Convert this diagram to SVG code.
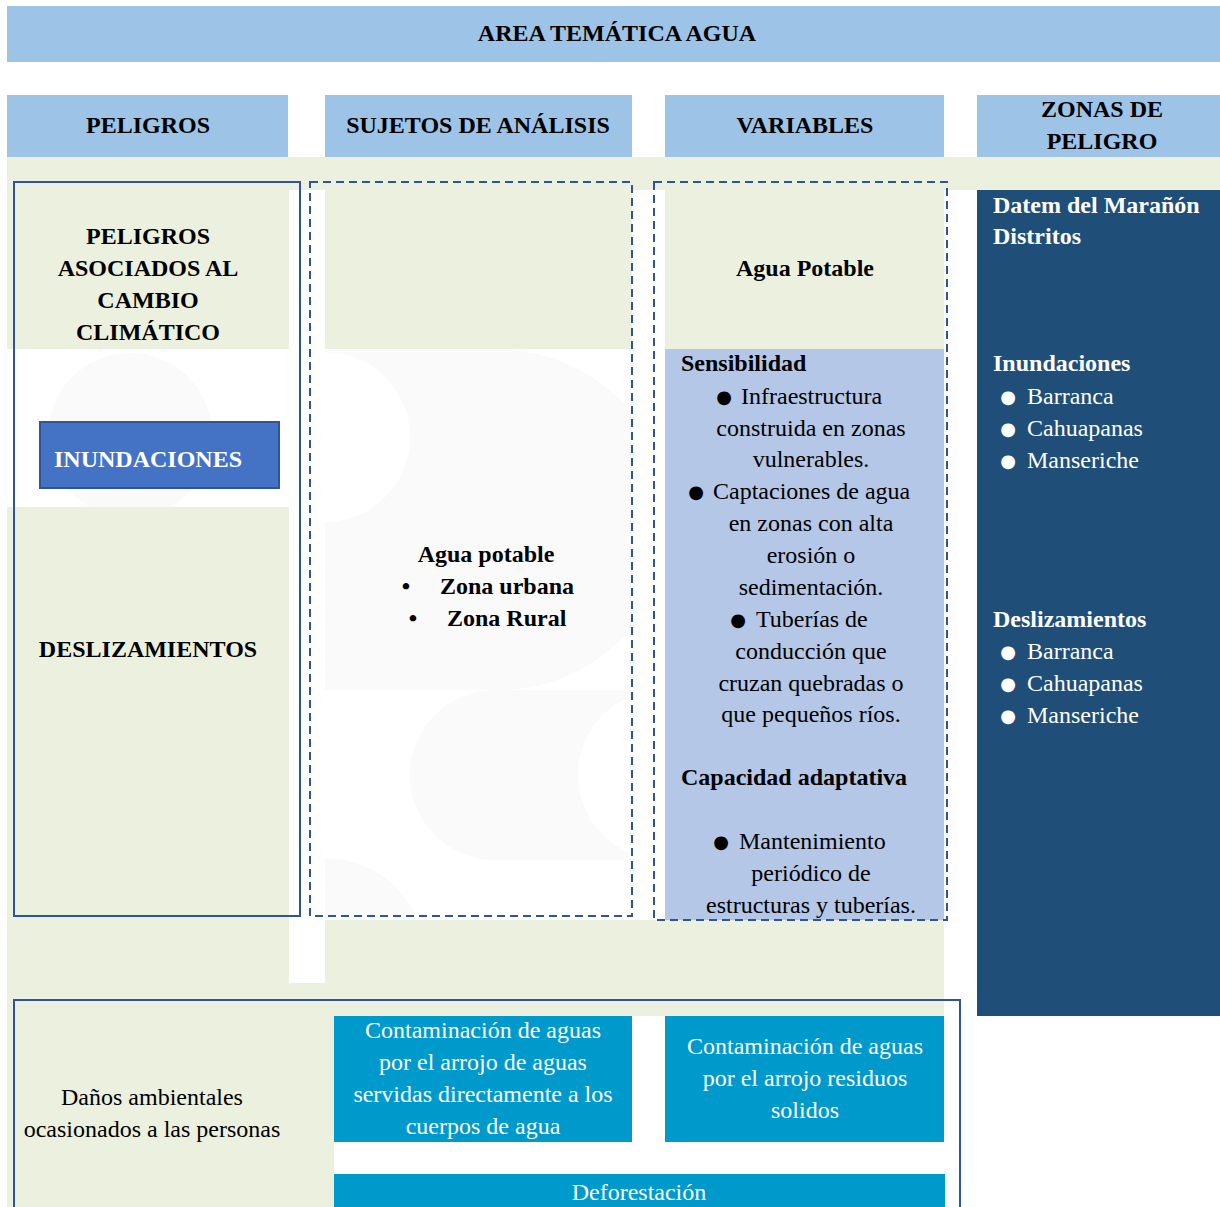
<svg xmlns="http://www.w3.org/2000/svg" width="1220" height="1207" viewBox="0 0 1220 1207" font-family="'Liberation Serif', 'Times New Roman', Times, serif">
<defs>
<style>
text{font-family:'Liberation Serif','Times New Roman',Times,serif;font-size:24px;fill:#000}
.b{font-weight:bold}
.w{fill:#fff}
.m{text-anchor:middle}
.hdr{fill:#9DC3E6}
.grn{fill:#EBF1DE}
.wm{fill:#FAFAFA}
.cy{fill:#0099CC}
.solid{fill:none;stroke:#2F5597;stroke-width:2}
.dash{fill:none;stroke:#2F5597;stroke-width:2;stroke-dasharray:8 5}
text.dot{font-family:'DejaVu Sans',sans-serif;font-size:18px}
</style>
<clipPath id="cl1"><rect x="7" y="349" width="282" height="158"/></clipPath>
<clipPath id="cl2"><rect x="325" y="349" width="307" height="571"/></clipPath>
</defs>
<rect width="1220" height="1207" fill="#fff"/>

<g id="background">
<rect class="grn" x="7" y="157" width="1213" height="33"/>
<rect class="grn" x="7" y="190" width="282" height="159"/>
<rect class="grn" x="7" y="507" width="282" height="700"/>
<rect class="grn" x="325" y="190" width="307" height="159"/>
<rect class="grn" x="289" y="983" width="36" height="224"/>
<rect class="grn" x="325" y="920" width="619" height="287"/>
<rect fill="#fff" x="334" y="1142" width="611" height="65"/>
<rect fill="#fff" x="632" y="1016" width="33" height="126"/>
<g clip-path="url(#cl1)"><circle class="wm" cx="130" cy="435" r="82"/></g>
<g clip-path="url(#cl2)">
<path class="wm" d="M325,350 H500 A170,170 0 0 1 500,690 H325 Z"/>
<circle fill="#fff" cx="325" cy="437" r="85"/>
<path class="wm" d="M495,690 H632 V860 H495 A85,85 0 0 1 495,690 Z"/>
<circle fill="#fff" cx="663" cy="775" r="85"/>
<circle class="wm" cx="325" cy="958" r="100"/>
</g>
</g>

<g id="title"><rect class="hdr" x="7" y="6" width="1213" height="56"/><text class="b m" x="617" y="41">AREA TEMÁTICA AGUA</text></g>
<g id="h-peligros"><rect class="hdr" x="7" y="95" width="281" height="62"/><text class="b m" x="148" y="133">PELIGROS</text></g>
<g id="h-sujetos"><rect class="hdr" x="325" y="95" width="307" height="62"/><text class="b m" x="478" y="133">SUJETOS DE ANÁLISIS</text></g>
<g id="h-variables"><rect class="hdr" x="665" y="95" width="279" height="62"/><text class="b m" x="805" y="133">VARIABLES</text></g>
<g id="h-zonas"><rect class="hdr" x="977" y="95" width="243" height="62"/><text class="b m" x="1102" y="117">ZONAS DE</text><text class="b m" x="1102" y="149">PELIGRO</text></g>

<g id="peligros">
<rect class="solid" x="14" y="182" width="286" height="734"/>
<text class="b m" x="148" y="244">PELIGROS</text>
<text class="b m" x="148" y="276">ASOCIADOS AL</text>
<text class="b m" x="148" y="308">CAMBIO</text>
<text class="b m" x="148" y="340">CLIMÁTICO</text>
</g>
<g id="inundaciones"><rect x="40" y="422" width="239" height="66" fill="#4472C4" stroke="#2F5597" stroke-width="2"/><text class="b w" x="54" y="467">INUNDACIONES</text></g>
<g id="deslizamientos"><text class="b m" x="148" y="657">DESLIZAMIENTOS</text></g>

<g id="sujetos">
<rect class="dash" x="310" y="182" width="322" height="734"/>
<text class="b m" x="486" y="562">Agua potable</text>
<text class="b m" x="406" y="594">•</text><text class="b" x="440" y="594">Zona urbana</text>
<text class="b m" x="413" y="626">•</text><text class="b" x="447" y="626">Zona Rural</text>
</g>

<g id="variables">
<rect class="grn" x="665" y="190" width="279" height="159"/>
<rect fill="#B4C7E7" x="665" y="349" width="279" height="571"/>
<rect class="dash" x="654" y="182" width="293" height="738"/>
<text class="b m" x="805" y="276">Agua Potable</text>
<text class="b" x="681" y="371">Sensibilidad</text>
<text class="dot m" x="724" y="403">●</text><text x="741" y="404">Infraestructura</text>
<text class="m" x="811" y="436">construida en zonas</text>
<text class="m" x="811" y="467">vulnerables.</text>
<text class="dot m" x="696" y="498">●</text><text x="713" y="499">Captaciones de agua</text>
<text class="m" x="811" y="531">en zonas con alta</text>
<text class="m" x="811" y="563">erosión o</text>
<text class="m" x="811" y="595">sedimentación.</text>
<text class="dot m" x="738" y="626">●</text><text x="756" y="627">Tuberías de</text>
<text class="m" x="811" y="659">conducción que</text>
<text class="m" x="811" y="691">cruzan quebradas o</text>
<text class="m" x="811" y="722">que pequeños ríos.</text>
<text class="b" x="681" y="785">Capacidad adaptativa</text>
<text class="dot m" x="721" y="848">●</text><text x="739" y="849">Mantenimiento</text>
<text class="m" x="811" y="881">periódico de</text>
<text class="m" x="811" y="913">estructuras y tuberías.</text>
</g>

<g id="zonas">
<rect fill="#1F4E79" x="977" y="190" width="243" height="826"/>
<text class="b w" x="993" y="213">Datem del Marañón</text>
<text class="b w" x="993" y="244">Distritos</text>
<text class="b w" x="993" y="371">Inundaciones</text>
<text class="dot w m" x="1008" y="403">●</text><text class="w" x="1027" y="404">Barranca</text>
<text class="dot w m" x="1008" y="435">●</text><text class="w" x="1027" y="436">Cahuapanas</text>
<text class="dot w m" x="1008" y="467">●</text><text class="w" x="1027" y="468">Manseriche</text>
<text class="b w" x="993" y="627">Deslizamientos</text>
<text class="dot w m" x="1008" y="658">●</text><text class="w" x="1027" y="659">Barranca</text>
<text class="dot w m" x="1008" y="690">●</text><text class="w" x="1027" y="691">Cahuapanas</text>
<text class="dot w m" x="1008" y="722">●</text><text class="w" x="1027" y="723">Manseriche</text>
</g>

<g id="danos">
<rect class="solid" x="14" y="1000" width="946" height="220"/>
<text class="m" x="152" y="1105">Daños ambientales</text>
<text class="m" x="152" y="1137">ocasionados a las personas</text>
</g>
<g id="contaminacion-aguas"><rect class="cy" x="334" y="1016" width="298" height="126"/>
<text class="w m" x="483" y="1038">Contaminación de aguas</text>
<text class="w m" x="483" y="1070">por el arrojo de aguas</text>
<text class="w m" x="483" y="1102">servidas directamente a los</text>
<text class="w m" x="483" y="1134">cuerpos de agua</text></g>
<g id="contaminacion-residuos"><rect class="cy" x="665" y="1016" width="279" height="126"/>
<text class="w m" x="805" y="1054">Contaminación de aguas</text>
<text class="w m" x="805" y="1086">por el arrojo residuos</text>
<text class="w m" x="805" y="1118">solidos</text></g>
<g id="deforestacion"><rect class="cy" x="334" y="1174" width="611" height="40"/>
<text class="w m" x="639" y="1200">Deforestación</text></g>

<g id="connectors"></g>
</svg>
